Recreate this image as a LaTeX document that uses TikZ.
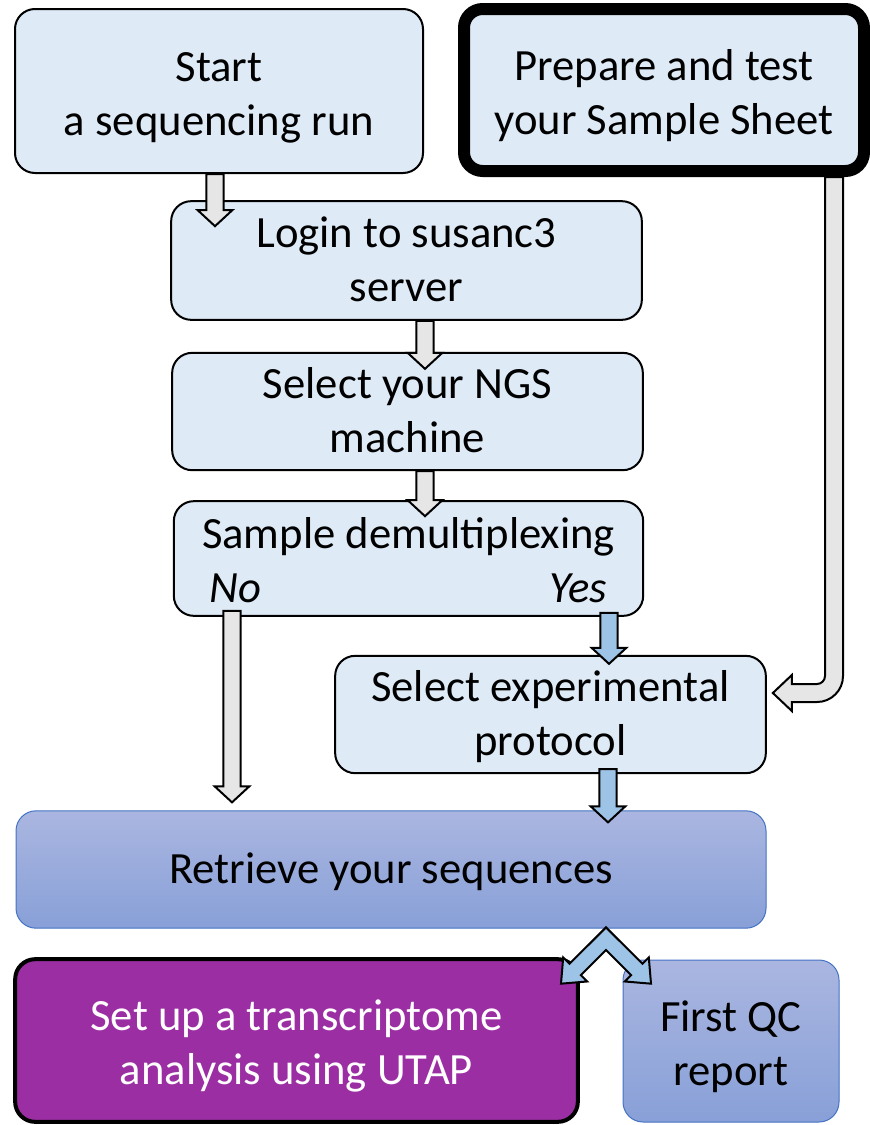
\documentclass[tikz,border=0pt]{standalone}
\usepackage{fontspec}
\setmainfont{Carlito}
\usetikzlibrary{calc}

\definecolor{boxblue}{RGB}{222,235,247}
\definecolor{arrowgrey}{RGB}{230,230,230}
\definecolor{arrowblue}{RGB}{157,195,230}
\definecolor{retrtop}{RGB}{170,182,224}
\definecolor{retrbot}{RGB}{136,160,216}
\definecolor{retrline}{RGB}{68,114,196}
\definecolor{utappurple}{RGB}{155,46,163}

\newcommand{\shaftw}{6.4pt}
\newcommand{\headw}{13pt}
\newcommand{\headlen}{12pt}
% block arrow from #2 (tail) to #3 (tip)
\newcommand{\blockarrow}[3][arrowgrey]{%
  \draw[blockline, fill=#1] let \p1=#2, \p2=#3,
    \n1={atan2(\y2-\y1,\x2-\x1)}, \n2={veclen(\x2-\x1,\y2-\y1)} in
    [shift={(\p1)}, rotate=\n1]
    (0pt,-\shaftw) -- ({\n2-\headlen},-\shaftw) -- ({\n2-\headlen},-\headw) -- ({\n2},0pt)
    -- ({\n2-\headlen},\headw) -- ({\n2-\headlen},\shaftw) -- (0pt,\shaftw) -- cycle;}

\tikzset{
  box/.style={draw=black, line width=1.5pt, fill=boxblue, rounded corners=15pt,
    align=center, inner sep=0pt, text depth=2pt, font=\fontsize{33.5}{40.5}\selectfont},
  tallbox/.style={box, text height=66pt, text depth=0pt},
  blockline/.style={draw=black, line width=1.5pt, line join=miter},
}

\begin{document}
\begin{tikzpicture}[x=0.75pt,y=-0.75pt]
\useasboundingbox (0,0) rectangle (869,1125);

% Boxes
\node[tallbox, minimum width=306pt, minimum height=123pt] (start) at (219,91) {Start\\a sequencing run};
\node[tallbox, line width=9pt, rounded corners=14pt, minimum width=300pt, minimum height=121.5pt] (prep) at (664,90) {Prepare and test\\your Sample Sheet};
\node[box, minimum width=353pt, minimum height=89pt] (login) at (406.5,260.5) {Login to susanc3\\server};
\node[box, minimum width=353pt, minimum height=88pt] (ngs) at (407.5,411.5) {Select your NGS\\machine};
\node[tallbox, minimum width=352pt, minimum height=86pt] (demux) at (408.5,558.5) {Sample demultiplexing\\\makebox[298pt]{\itshape No\hfill Yes}};
\node[box, minimum width=323pt, minimum height=88pt] (proto) at (550.5,714.5) {Select experimental\\protocol};
\node[box, draw=retrline, line width=0.75pt, top color=retrtop, bottom color=retrbot, minimum width=562.5pt, minimum height=88pt] (retr) at (391,869.5) {Retrieve your sequences};
\node[tallbox, line width=3pt, fill=utappurple, text=white, minimum width=422pt, minimum height=122pt] (utap) at (296.5,1040.5) {Set up a transcriptome\\analysis using UTAP};
\node[tallbox, draw=retrline, line width=0.75pt, top color=retrtop, bottom color=retrbot, minimum width=162pt, minimum height=121.5pt] (qc) at (731,1041) {First QC\\report};

% Block arrows
\blockarrow{($(start.south)+(-4,0)$)}{($(login.north)+(-191.5,26)$)}
\blockarrow{($(login.south)+(18.5,0)$)}{($(ngs.north)+(17.5,17)$)}
\blockarrow{($(ngs.south)+(17.5,0)$)}{($(demux.north)+(16.5,16)$)}
\blockarrow[arrowblue]{($(demux.south)+(200.5,-4)$)}{($(proto.north)+(58.5,9)$)}
\blockarrow[arrowblue]{($(proto.south)+(57.5,-5)$)}{($(retr.north)+(217,12)$)}
\blockarrow{($(demux.south)+(-176.5,-6)$)}{($(retr.north)+(-159,-8)$)}

% Bent arrow from the sample sheet
\coordinate (qtop) at ($(prep.south)+(170,0)$);
\coordinate (qtip) at ($(proto.east)+(6,-21.5)$);
\draw[blockline, fill=arrowgrey] ($(qtop)+(-9,0)$) -- ($(qtop |- qtip)+(-9,-17)$) arc (0:90:8)
  -- ($(qtip)+(19,-9)$) -- ++(0,-9) -- (qtip) -- ++(19,18) -- ++(0,-9)
  -- ($(qtop |- qtip)+(-17,9)$) arc (90:0:26) -- ($(qtop)+(9,0)$) -- cycle;

% Fork below the sequences
\coordinate (fork) at ($(retr.south)+(215,10)$);
\draw[blockline, fill=arrowblue, shift={(fork)}] (0,-11.3) -- (-36.5,25.1) -- (-42.8,18.8) -- (-45,45)
  -- (-18.8,42.8) -- (-25.1,36.5) -- (0,11.3) -- (25.1,36.5) -- (18.8,42.8) -- (45,45)
  -- (42.8,18.8) -- (36.5,25.1) -- cycle;

\end{tikzpicture}
\end{document}
